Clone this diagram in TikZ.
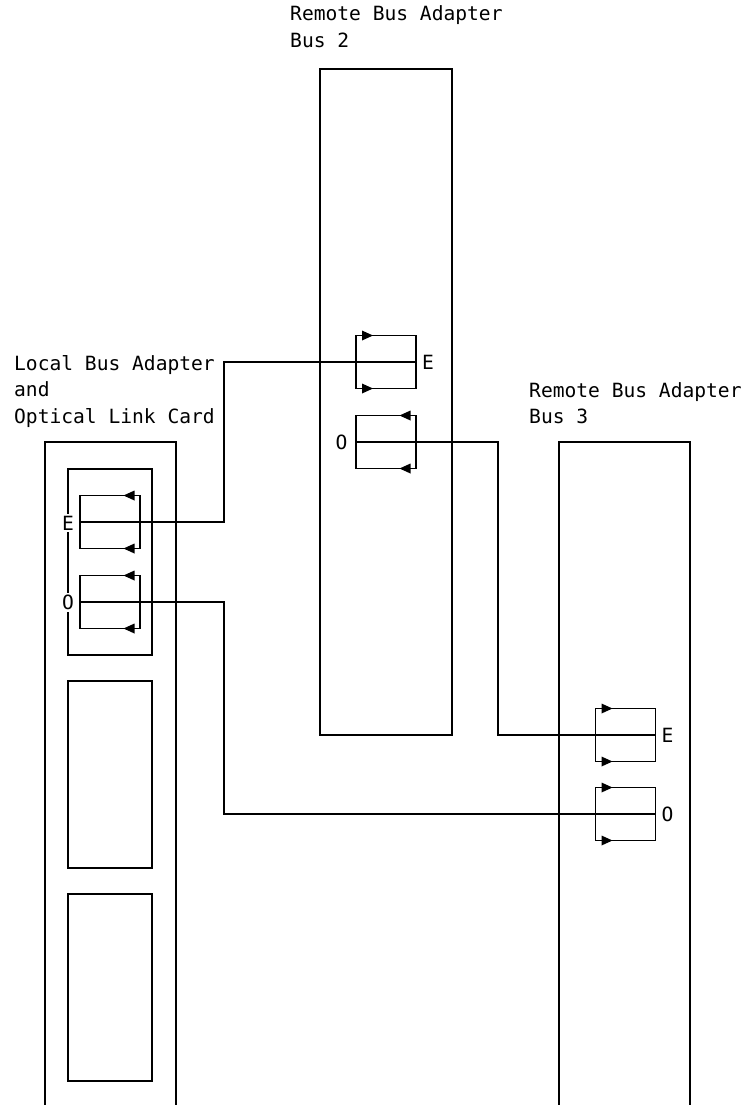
\documentclass[tikz,border=0pt]{standalone}
\usepackage{fontspec}
\setmonofont{DejaVu Sans Mono}
\begin{document}
\begin{tikzpicture}[x=1pt,y=-1pt,
  every node/.style={font=\ttfamily\fontsize{19.6}{26}\selectfont},
  wire/.style={line width=1.4pt},
  blk/.style={draw,line width=1.4pt,rectangle,inner sep=0,outer sep=0,minimum width=60pt,minimum height=53pt},
  lbl/.style={anchor=base west,inner sep=0},
  port/.style={anchor=base,inner sep=0},
  portw/.style={anchor=base,fill=white,inner sep=2pt},
  arrR/.pic={\fill (-5.5,-5)--(5.5,0)--(-5.5,5)--cycle;},
  arrL/.pic={\fill (5.5,-5)--(-5.5,0)--(5.5,5)--cycle;}]
\useasboundingbox (0,0) rectangle (748,1105);

% outer cards
\draw[wire] (320,69) rectangle (452,735);
\draw[wire] (45,1105) |- (176,442) -- (176,1105);
\draw[wire] (559,1105) |- (690,442) -- (690,1105);
% inner boxes of local card
\draw[wire] (68,469) rectangle (152,655);
\draw[wire] (68,681) rectangle (152,868);
\draw[wire] (68,894) rectangle (152,1081);

% labels
\node[lbl] (t1) at (290,21) {Remote Bus Adapter};
\node[lbl] (t2) at (290,47.5) {Bus 2};
\node[lbl] (l1) at (14,370) {Local Bus Adapter};
\node[lbl] (l2) at (14,396.5) {and};
\node[lbl] (l3) at (14,423) {Optical Link Card};
\node[lbl] (r1) at (529,397) {Remote Bus Adapter};
\node[lbl] (r2) at (529,423) {Bus 3};

% port blocks
\node[blk] (mE) at (386,362) {};
\node[blk] (mO) at (386,442) {};
\node[blk] (lE) at (110,522) {};
\node[blk] (lO) at (110,602) {};
\node[blk] (rE) at (625.5,735) {};
\node[blk] (rO) at (625.5,814) {};

% arrow heads
\foreach \b in {mE,rE,rO}{
  \path (\b.north west) ++(11.5,0) pic {arrR};
  \path (\b.south west) ++(11.5,0) pic {arrR};
}
\foreach \b in {mO,lE,lO}{
  \path (\b.north east) ++(-11,0) pic {arrL};
  \path (\b.south east) ++(-11,0) pic {arrL};
}

% connectors
\coordinate (j1) at (224,362);
\coordinate (j2) at (498,735);
\coordinate (j3) at (224,814);
\draw[wire] (lE.west) -| (j1) |- (mE.east);
\draw[wire] (mO.west) -| (j2) |- (rE.east);
\draw[wire] (lO.west) -| (j3) |- (rO.east);

% port letters
\node[port] (mEl) at (428,369.5) {E};
\node[port] (mOl) at (341.5,449.5) {O};
\node[portw] (lEl) at (68,530) {E};
\node[portw] (lOl) at (68,609.5) {O};
\node[port] (rEl) at (667.5,742.5) {E};
\node[port] (rOl) at (667.5,821.5) {O};
\end{tikzpicture}
\end{document}
